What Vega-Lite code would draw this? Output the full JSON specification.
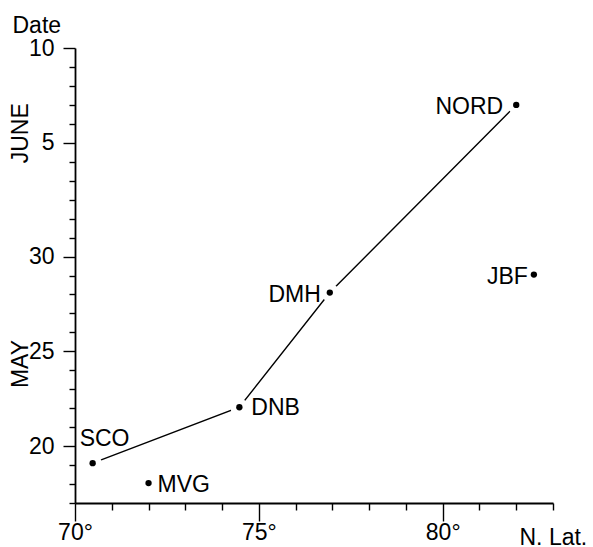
{
  "$schema": "https://vega.github.io/schema/vega-lite/v6.json",
  "width": 478,
  "height": 455,
  "autosize": "none",
  "padding": {"left": 75, "top": 48, "right": 40, "bottom": 44},
  "background": "white",
  "config": {
    "view": {"stroke": null},
    "font": "Liberation Sans",
    "axis": {
      "domainColor": "black",
      "tickColor": "black",
      "labelColor": "black",
      "titleColor": "black",
      "labelFont": "Liberation Sans",
      "titleFont": "Liberation Sans",
      "labelFontSize": 23,
      "titleFontSize": 23,
      "titleFontWeight": "normal",
      "grid": false,
      "domainWidth": 1.8,
      "tickWidth": 1.4,
      "labelFlush": false,
      "labelOverlap": false
    }
  },
  "datasets": {
    "stations": [
      {"name": "SCO", "lat": 70.48, "day": 19.1},
      {"name": "MVG", "lat": 72.0, "day": 18.05},
      {"name": "DNB", "lat": 74.47, "day": 22.05},
      {"name": "DMH", "lat": 76.93, "day": 28.1},
      {"name": "NORD", "lat": 82.0, "day": 38.0},
      {"name": "JBF", "lat": 82.48, "day": 29.05}
    ],
    "months": [
      {"label": "JUNE", "lat": 68.54, "day": 36.5},
      {"label": "MAY", "lat": 68.54, "day": 24.33}
    ]
  },
  "layer": [
    {
      "data": {"name": "stations"},
      "transform": [{"filter": "datum.name !== 'MVG' && datum.name !== 'JBF'"}],
      "mark": {"type": "line", "color": "black", "strokeWidth": 1.4},
      "encoding": {
        "x": {
          "field": "lat", "type": "quantitative",
          "scale": {"domain": [70, 83], "nice": false, "zero": false},
          "axis": {
            "orient": "bottom",
            "values": [70,71,72,73,74,75,76,77,78,79,80,81,82,83],
            "tickCount": 100,
            "labelExpr": "datum.value % 5 === 0 ? datum.value + '°' : ''",
            "tickSize": {"condition": {"test": "datum.value % 5 === 0", "value": 18}, "value": 7},
            "labelPadding": 0,
            "title": "N. Lat.", "titleX": 444, "titleY": 41, "titleAlign": "left", "titleBaseline": "alphabetic"
          }
        },
        "y": {
          "field": "day", "type": "quantitative",
          "scale": {"domain": [17, 41], "nice": false, "zero": false},
          "axis": {
            "orient": "left",
            "values": [17,18,19,20,21,22,23,24,25,26,27,28,29,30,31,32,33,34,35,36,37,38,39,40,41],
            "tickCount": 100,
            "labelExpr": "indexof([20,25,30,36,41], datum.value) >= 0 ? (datum.value > 31 ? datum.value - 31 : datum.value) + '' : ''",
            "tickSize": {"condition": {"test": "indexof([20,25,30,36,41], datum.value) >= 0", "value": 12}, "value": 6},
            "labelPadding": 9,
            "title": "Date", "titleAngle": 0, "titleX": -63, "titleY": -16, "titleAlign": "left", "titleBaseline": "alphabetic"
          }
        }
      }
    },
    {
      "data": {"name": "stations"},
      "mark": {"type": "point", "filled": true, "shape": "circle", "size": 320, "color": "white", "opacity": 1},
      "encoding": {
        "x": {"field": "lat", "type": "quantitative"},
        "y": {"field": "day", "type": "quantitative"}
      }
    },
    {
      "data": {"name": "stations"},
      "mark": {"type": "point", "filled": true, "shape": "circle", "size": 40, "color": "black", "opacity": 1},
      "encoding": {
        "x": {"field": "lat", "type": "quantitative"},
        "y": {"field": "day", "type": "quantitative"}
      }
    },
    {
      "data": {"name": "stations"},
      "transform": [{"filter": "datum.name === 'SCO'"}],
      "mark": {"type": "text", "align": "left", "baseline": "middle", "dx": -13, "dy": -24, "fontSize": 23, "color": "black"},
      "encoding": {"x": {"field": "lat", "type": "quantitative"}, "y": {"field": "day", "type": "quantitative"}, "text": {"field": "name"}}
    },
    {
      "data": {"name": "stations"},
      "transform": [{"filter": "datum.name === 'MVG'"}],
      "mark": {"type": "text", "align": "left", "baseline": "middle", "dx": 9, "dy": 2, "fontSize": 23, "color": "black"},
      "encoding": {"x": {"field": "lat", "type": "quantitative"}, "y": {"field": "day", "type": "quantitative"}, "text": {"field": "name"}}
    },
    {
      "data": {"name": "stations"},
      "transform": [{"filter": "datum.name === 'DNB'"}],
      "mark": {"type": "text", "align": "left", "baseline": "middle", "dx": 12, "dy": 1, "fontSize": 23, "color": "black"},
      "encoding": {"x": {"field": "lat", "type": "quantitative"}, "y": {"field": "day", "type": "quantitative"}, "text": {"field": "name"}}
    },
    {
      "data": {"name": "stations"},
      "transform": [{"filter": "datum.name === 'DMH'"}],
      "mark": {"type": "text", "align": "right", "baseline": "middle", "dx": -9, "dy": 2, "fontSize": 23, "color": "black"},
      "encoding": {"x": {"field": "lat", "type": "quantitative"}, "y": {"field": "day", "type": "quantitative"}, "text": {"field": "name"}}
    },
    {
      "data": {"name": "stations"},
      "transform": [{"filter": "datum.name === 'NORD'"}],
      "mark": {"type": "text", "align": "right", "baseline": "middle", "dx": -13, "dy": 2, "fontSize": 23, "color": "black"},
      "encoding": {"x": {"field": "lat", "type": "quantitative"}, "y": {"field": "day", "type": "quantitative"}, "text": {"field": "name"}}
    },
    {
      "data": {"name": "stations"},
      "transform": [{"filter": "datum.name === 'JBF'"}],
      "mark": {"type": "text", "align": "right", "baseline": "middle", "dx": -6, "dy": 2, "fontSize": 23, "color": "black"},
      "encoding": {"x": {"field": "lat", "type": "quantitative"}, "y": {"field": "day", "type": "quantitative"}, "text": {"field": "name"}}
    },
    {
      "data": {"name": "months"},
      "mark": {"type": "text", "align": "center", "baseline": "middle", "angle": 270, "fontSize": 23, "color": "black"},
      "encoding": {"x": {"field": "lat", "type": "quantitative"}, "y": {"field": "day", "type": "quantitative"}, "text": {"field": "label"}}
    }
  ]
}
